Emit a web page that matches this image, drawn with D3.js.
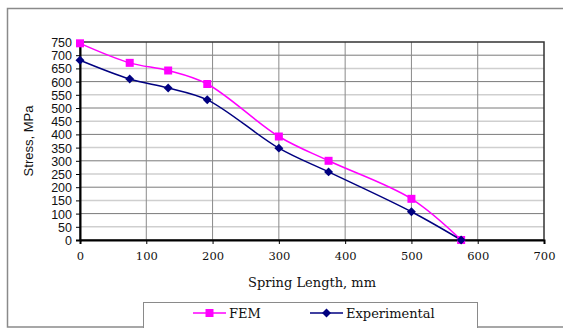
<!DOCTYPE html>
<html>
<head>
<meta charset="utf-8">
<script src="https://cdn.jsdelivr.net/npm/d3@7"></script>
<style>
  body { margin: 0; background: #fff; }
  svg { display: block; }
</style>
</head>
<body>
<div id="chart"></div>
<script>
var width = 563,
    height = 328;

// data
var springLength = [0, 75, 133, 192, 300, 375, 500, 575];
var femStress = [745, 671, 642, 591, 392, 300, 156, 0];
var expStress = [681, 610, 576, 531, 348, 258, 107, 0];
var xTicks = [0, 100, 200, 300, 400, 500, 600, 700];
var yTicks = d3.range(0, 751, 50);

var plot = { left: 80, right: 544, top: 42, bottom: 240 };
var serif = "'DejaVu Serif', 'Liberation Serif', serif";

var svg = d3.select("#chart")
    .append("svg")
    .attr("width", width)
    .attr("height", height);

// outer chart frame (cropped on right and bottom)
svg.append("rect")
    .attr("x", 7.5).attr("y", 8.5)
    .attr("width", width).attr("height", 318.5)
    .attr("fill", "#fff")
    .attr("stroke", "#8a8a8a")
    .attr("stroke-width", 1.5);

var x = d3.scaleLinear().domain([0, 700]).range([plot.left, plot.right]);
var y = d3.scaleLinear().domain([0, 750]).range([plot.bottom, plot.top]);

// horizontal grid: minor every 50, major every 100
svg.append("g")
    .selectAll("line")
    .data(yTicks.filter(function (d) { return d > 0 && d < 750; }))
    .enter().append("line")
    .attr("x1", plot.left).attr("x2", plot.right)
    .attr("y1", function (d) { return y(d); })
    .attr("y2", function (d) { return y(d); })
    .attr("stroke", function (d) { return d % 100 === 0 ? "#7a7a7a" : "#cfcfcf"; })
    .attr("stroke-width", function (d) { return d % 100 === 0 ? 1 : 1.5; });

// vertical grid
svg.append("g")
    .selectAll("line")
    .data(xTicks.filter(function (d) { return d > 0 && d < 700; }))
    .enter().append("line")
    .attr("y1", plot.top).attr("y2", plot.bottom)
    .attr("x1", function (d) { return x(d); })
    .attr("x2", function (d) { return x(d); })
    .attr("stroke", "#8a8a8a")
    .attr("stroke-width", 1);

// plot frame
svg.append("rect")
    .attr("x", plot.left).attr("y", plot.top)
    .attr("width", plot.right - plot.left)
    .attr("height", plot.bottom - plot.top)
    .attr("fill", "none")
    .attr("stroke", "#333")
    .attr("stroke-width", 1.5);

// axes
var xAxis = svg.append("g")
    .attr("transform", "translate(0," + plot.bottom + ")")
    .call(d3.axisBottom(x).tickValues(xTicks).tickSize(4).tickPadding(8).tickFormat(d3.format("d")));
xAxis.select(".domain").attr("stroke", "#000").attr("stroke-width", 2);
xAxis.selectAll("text")
    .style("font-family", serif)
    .style("font-size", "11.5px")
    .attr("fill", "#111");

var yAxis = svg.append("g")
    .attr("transform", "translate(" + plot.left + ",0)")
    .call(d3.axisLeft(y).tickValues(yTicks).tickSize(4).tickPadding(4).tickFormat(d3.format("d")));
yAxis.select(".domain").attr("stroke", "#000").attr("stroke-width", 2);
yAxis.selectAll("text")
    .style("font-family", "'Liberation Sans', Arial, sans-serif")
    .style("font-size", "12.5px")
    .attr("fill", "#111")
    .attr("dy", "0.36em");

// axis titles
svg.append("text")
    .attr("x", (plot.left + plot.right) / 2)
    .attr("y", 287)
    .attr("text-anchor", "middle")
    .style("font-family", serif)
    .style("font-size", "13px")
    .attr("fill", "#111")
    .text("Spring Length, mm");

svg.append("text")
    .attr("transform", "translate(33," + 141 + ") rotate(-90)")
    .attr("text-anchor", "middle")
    .style("font-family", "'Liberation Sans', Arial, sans-serif")
    .style("font-size", "13px")
    .attr("fill", "#111")
    .text("Stress, MPa");

// wide diamond like the spreadsheet marker
var wideDiamond = {
    draw: function (ctx, size) {
        var r = Math.sqrt(size / 2);
        ctx.moveTo(0, -r);
        ctx.lineTo(r, 0);
        ctx.lineTo(0, r);
        ctx.lineTo(-r, 0);
        ctx.closePath();
    }
};

// series
var series = [
    { name: "FEM", values: femStress, color: "#ff00ff", shape: d3.symbolSquare, size: 64 },
    { name: "Experimental", values: expStress, color: "#000080", shape: wideDiamond, size: 40 }
];

var line = d3.line()
    .x(function (d) { return x(d[0]); })
    .y(function (d) { return y(d[1]); })
    .curve(d3.curveCatmullRom.alpha(0.5));

series.forEach(function (s) {
    var pts = springLength.map(function (len, i) { return [len, s.values[i]]; });
    svg.append("path")
        .datum(pts)
        .attr("d", line)
        .attr("fill", "none")
        .attr("stroke", s.color)
        .attr("stroke-width", 1.5);
});

series.forEach(function (s) {
    var pts = springLength.map(function (len, i) { return [len, s.values[i]]; });
    svg.append("g")
        .selectAll("path")
        .data(pts)
        .enter().append("path")
        .attr("transform", function (d) { return "translate(" + x(d[0]) + "," + y(d[1]) + ")"; })
        .attr("d", d3.symbol().type(s.shape).size(s.size))
        .attr("fill", s.color);
});

// legend
var legend = svg.append("g");
legend.append("rect")
    .attr("x", 143.5).attr("y", 302.5)
    .attr("width", 334).attr("height", 30)
    .attr("fill", "#fff")
    .attr("stroke", "#8a8a8a")
    .attr("stroke-width", 1);

var legendPos = [193, 310];
series.forEach(function (s, i) {
    var lx = legendPos[i];
    legend.append("line")
        .attr("x1", lx).attr("x2", lx + 33)
        .attr("y1", 313).attr("y2", 313)
        .attr("stroke", s.color)
        .attr("stroke-width", 1.5);
    legend.append("path")
        .attr("transform", "translate(" + (lx + 16.5) + ",313)")
        .attr("d", d3.symbol().type(s.shape).size(s.size))
        .attr("fill", s.color);
    legend.append("text")
        .attr("x", lx + 36)
        .attr("y", 317.5)
        .style("font-family", serif)
        .style("font-size", "13px")
        .attr("fill", "#111")
        .text(s.name);
});
</script>
</body>
</html>
